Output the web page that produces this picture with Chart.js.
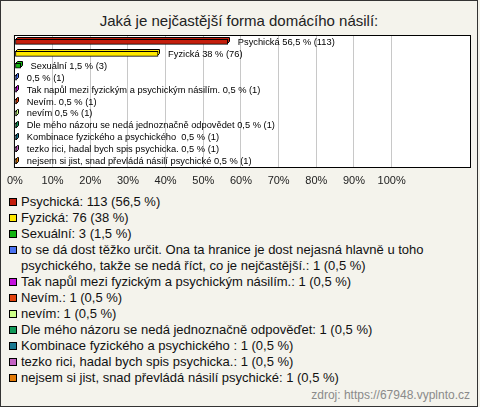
<!DOCTYPE html>
<html>
<head>
<meta charset="utf-8">
<script src="https://cdn.jsdelivr.net/npm/chart.js@4.4.1/dist/chart.umd.min.js"></script>
<style>
  html, body { margin: 0; padding: 0; background: #f4f3ec; }
  body { width: 480px; height: 407px; position: relative; overflow: hidden; font-family: "Liberation Sans", Arial, sans-serif; }
  #frame { position: absolute; left: 0; top: 0; width: 476px; height: 405px; border: 1px solid #333; }
  #title { position: absolute; left: 0; top: 12px; width: 478px; text-align: center; font-size: 15px; color: #222; }
  #chartBox { position: absolute; left: 0; top: 30px; width: 480px; height: 160px; }
  #legend { position: absolute; left: 9px; top: 194px; width: 458px; font-size: 13px; line-height: 16px; color: #111; }
  #legend .item { position: relative; padding-left: 12px; }
  #legend .sw { position: absolute; left: 0; top: 4px; width: 8px; height: 8px; box-sizing: border-box; border: 1px solid #000; }
  #source { position: absolute; right: 10px; top: 388px; font-size: 12px; color: #8a8a8a; }
</style>
</head>
<body>
<div id="frame"></div>
<div id="title">Jaká je nejčastější forma domácího násilí:</div>
<div id="chartBox"><canvas id="formChart"></canvas></div>
<div id="legend"></div>
<div id="source">zdroj: https://67948.vyplnto.cz</div>
<script>
// answers as shown in the legend
const categories = [
    'Psychická',
    'Fyzická',
    'Sexuální',
    'to se dá dost těžko určit. Ona ta hranice je dost nejasná hlavně u toho psychického, takže se nedá říct, co je nejčastější.',
    'Tak napůl mezi fyzickým a psychickým násilím.',
    'Nevím.',
    'nevím',
    'Dle mého názoru se nedá jednoznačně odpověďet',
    'Kombinace fyzického a psychického ',
    'tezko rici, hadal bych spis psychicka.',
    'nejsem si jist, snad převládá násilí psychické'
];
// names as printed next to the bars (long one is left out there)
const barNames = [
    'Psychická',
    'Fyzická',
    'Sexuální',
    '',
    'Tak napůl mezi fyzickým a psychickým násilím.',
    'Nevím.',
    'nevím',
    'Dle mého názoru se nedá jednoznačně odpovědet',
    'Kombinace fyzického a psychického ',
    'tezko rici, hadal bych spis psychicka.',
    'nejsem si jist, snad převládá násilí psychické'
];
const counts = [113, 76, 3, 1, 1, 1, 1, 1, 1, 1, 1];
const percents = [56.5, 38, 1.5, 0.5, 0.5, 0.5, 0.5, 0.5, 0.5, 0.5, 0.5];
const colors = ['#c41e0c', '#ffe800', '#12b412', '#4a72f0', '#c412dc', '#e2420c', '#ccff88', '#129a5a', '#1a7a92', '#c462c4', '#e27a06'];
const tickValues = [0, 10, 20, 30, 40, 50, 60, 70, 80, 90, 100];

function fmt(p) {
    return String(p).replace('.', ',');
}

// Build the HTML legend
const legendEl = document.getElementById('legend');
categories.forEach((name, i) => {
    const item = document.createElement('div');
    item.className = 'item';
    const sw = document.createElement('span');
    sw.className = 'sw';
    sw.style.background = colors[i];
    item.appendChild(sw);
    item.appendChild(document.createTextNode(`${name}: ${counts[i]} (${fmt(percents[i])} %)`));
    legendEl.appendChild(item);
});

const DEPTH = 2;

// white plot area with a black frame
const plotFrame = {
    id: 'plotFrame',
    beforeDraw(chart) {
        const { ctx, chartArea: a } = chart;
        ctx.save();
        ctx.fillStyle = '#fff';
        ctx.fillRect(a.left, a.top, a.right - a.left, a.bottom - a.top);
        ctx.restore();
    },
    afterDraw(chart) {
        const { ctx, chartArea: a } = chart;
        ctx.save();
        ctx.strokeStyle = '#000';
        ctx.lineWidth = 1;
        ctx.strokeRect(a.left - 0.5, a.top - 0.5, a.right - a.left + 1, a.bottom - a.top + 1);
        ctx.restore();
    }
};

// top and right faces behind each bar, plus the value labels
const bar3d = {
    id: 'bar3d',
    beforeDatasetsDraw(chart) {
        const ctx = chart.ctx;
        const meta = chart.getDatasetMeta(0);
        ctx.save();
        ctx.lineWidth = 1;
        ctx.strokeStyle = '#000';
        meta.data.forEach((el, i) => {
            const { x, y, base, height } = el.getProps(['x', 'y', 'base', 'height'], true);
            const top = Math.round(y - height / 2) + 0.5;
            const bot = Math.round(y + height / 2) - 0.5;
            const x1 = Math.round(x) - 0.5;
            const x0 = Math.round(base) + 0.5;
            ctx.beginPath();
            ctx.moveTo(x0, top);
            ctx.lineTo(x0 + DEPTH, top - DEPTH);
            ctx.lineTo(x1 + DEPTH, top - DEPTH);
            ctx.lineTo(x1 + DEPTH, bot - DEPTH);
            ctx.lineTo(x1, bot);
            ctx.lineTo(x1, top);
            ctx.closePath();
            ctx.fillStyle = colors[i];
            ctx.fill();
            ctx.stroke();
        });
        ctx.restore();
    },
    afterDatasetsDraw(chart) {
        const ctx = chart.ctx;
        const meta = chart.getDatasetMeta(0);
        ctx.save();
        ctx.font = '9.3px "Liberation Sans", Arial, sans-serif';
        ctx.fillStyle = '#000';
        ctx.textBaseline = 'middle';
        ctx.textAlign = 'left';
        meta.data.forEach((el, i) => {
            const name = barNames[i] ? barNames[i] + ' ' : '';
            ctx.fillText(`${name}${fmt(percents[i])} % (${counts[i]})`, el.x + 10, el.y + 0.5);
        });
        ctx.restore();
    }
};

new Chart(document.getElementById('formChart'), {
    type: 'bar',
    data: {
        labels: categories,
        datasets: [{
            data: percents,
            backgroundColor: colors,
            borderColor: '#000',
            borderWidth: 1,
            borderSkipped: false,
            barThickness: 5
        }]
    },
    options: {
        indexAxis: 'y',
        responsive: true,
        maintainAspectRatio: false,
        animation: false,
        layout: { padding: { left: 11, right: 10, top: 6, bottom: 0 } },
        plugins: {
            legend: { display: false },
            title: { display: false },
            tooltip: { enabled: false }
        },
        scales: {
            y: { display: false },
            x: {
                min: 0,
                max: 120.8,
                afterBuildTicks: function (axis) {
                    axis.ticks = tickValues.map(v => ({ value: v }));
                },
                afterFit: function (axis) {
                    axis.height = 23;
                },
                border: { display: false },
                grid: { color: '#c8c8c8', drawTicks: false },
                ticks: {
                    padding: 7,
                    color: '#222',
                    font: { family: '"Liberation Sans", Arial, sans-serif', size: 11 },
                    callback: function (value) {
                        return value + '%';
                    }
                }
            }
        }
    },
    plugins: [plotFrame, bar3d]
});
</script>
</body>
</html>
